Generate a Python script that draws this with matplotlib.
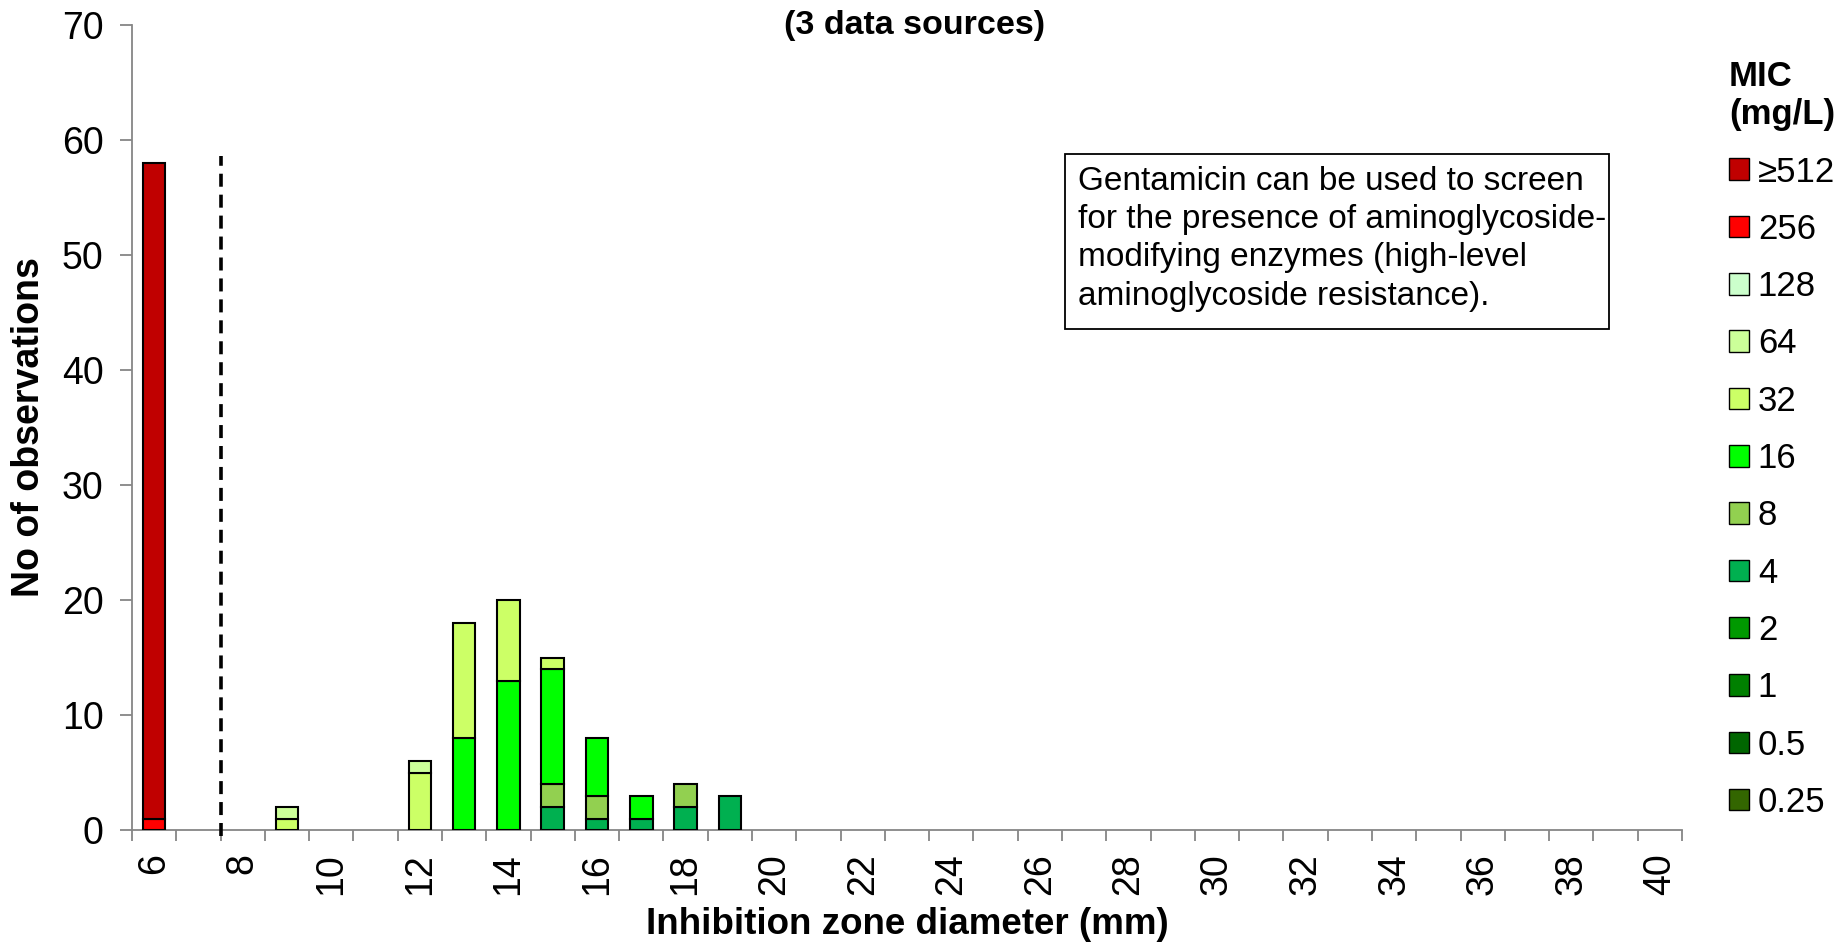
import numpy as np
import matplotlib.pyplot as plt
from matplotlib.patches import Patch, Rectangle

plt.rcParams['font.family'] = ['Liberation Sans', 'DejaVu Sans']

# zone diameters (mm), one category per mm
zone_mm = [6, 7, 8, 9, 10, 11, 12, 13, 14, 15, 16, 17, 18, 19, 20, 21, 22, 23,
           24, 25, 26, 27, 28, 29, 30, 31, 32, 33, 34, 35, 36, 37, 38, 39, 40]

# MIC classes, lowest first (stacking order)
mic_labels = ['0.25', '0.5', '1', '2', '4', '8', '16', '32', '64', '128', '256', '\u2265512']
mic_colors = ['#336600', '#006600', '#008000', '#009900', '#00B050', '#92D050',
              '#00FF00', '#CCFF66', '#CCFF99', '#CCFFCC', '#FF0000', '#C00000']

# number of observations per zone diameter for each MIC class
n_0_25 = [0, 0, 0, 0, 0, 0, 0, 0, 0, 0, 0, 0, 0, 0, 0, 0, 0, 0, 0, 0, 0, 0, 0, 0, 0, 0, 0, 0, 0, 0, 0, 0, 0, 0, 0]
n_0_5  = [0, 0, 0, 0, 0, 0, 0, 0, 0, 0, 0, 0, 0, 0, 0, 0, 0, 0, 0, 0, 0, 0, 0, 0, 0, 0, 0, 0, 0, 0, 0, 0, 0, 0, 0]
n_1    = [0, 0, 0, 0, 0, 0, 0, 0, 0, 0, 0, 0, 0, 0, 0, 0, 0, 0, 0, 0, 0, 0, 0, 0, 0, 0, 0, 0, 0, 0, 0, 0, 0, 0, 0]
n_2    = [0, 0, 0, 0, 0, 0, 0, 0, 0, 0, 0, 0, 0, 0, 0, 0, 0, 0, 0, 0, 0, 0, 0, 0, 0, 0, 0, 0, 0, 0, 0, 0, 0, 0, 0]
n_4    = [0, 0, 0, 0, 0, 0, 0, 0, 0, 2, 1, 1, 2, 3, 0, 0, 0, 0, 0, 0, 0, 0, 0, 0, 0, 0, 0, 0, 0, 0, 0, 0, 0, 0, 0]
n_8    = [0, 0, 0, 0, 0, 0, 0, 0, 0, 2, 2, 0, 2, 0, 0, 0, 0, 0, 0, 0, 0, 0, 0, 0, 0, 0, 0, 0, 0, 0, 0, 0, 0, 0, 0]
n_16   = [0, 0, 0, 0, 0, 0, 0, 8, 13, 10, 5, 2, 0, 0, 0, 0, 0, 0, 0, 0, 0, 0, 0, 0, 0, 0, 0, 0, 0, 0, 0, 0, 0, 0, 0]
n_32   = [0, 0, 0, 1, 0, 0, 5, 10, 7, 1, 0, 0, 0, 0, 0, 0, 0, 0, 0, 0, 0, 0, 0, 0, 0, 0, 0, 0, 0, 0, 0, 0, 0, 0, 0]
n_64   = [0, 0, 0, 1, 0, 0, 1, 0, 0, 0, 0, 0, 0, 0, 0, 0, 0, 0, 0, 0, 0, 0, 0, 0, 0, 0, 0, 0, 0, 0, 0, 0, 0, 0, 0]
n_128  = [0, 0, 0, 0, 0, 0, 0, 0, 0, 0, 0, 0, 0, 0, 0, 0, 0, 0, 0, 0, 0, 0, 0, 0, 0, 0, 0, 0, 0, 0, 0, 0, 0, 0, 0]
n_256  = [1, 0, 0, 0, 0, 0, 0, 0, 0, 0, 0, 0, 0, 0, 0, 0, 0, 0, 0, 0, 0, 0, 0, 0, 0, 0, 0, 0, 0, 0, 0, 0, 0, 0, 0]
n_512  = [57, 0, 0, 0, 0, 0, 0, 0, 0, 0, 0, 0, 0, 0, 0, 0, 0, 0, 0, 0, 0, 0, 0, 0, 0, 0, 0, 0, 0, 0, 0, 0, 0, 0, 0]

counts = [n_0_25, n_0_5, n_1, n_2, n_4, n_8, n_16, n_32, n_64, n_128, n_256, n_512]

breakpoint_mm = 7.5      # S >= 8 mm
breakpoint_top = 58.6

note = ("Gentamicin can be used to screen\n"
        "for the presence of aminoglycoside-\n"
        "modifying enzymes (high-level\n"
        "aminoglycoside resistance).")

W, H = 1839, 944
fig = plt.figure(figsize=(W / 100, H / 100), dpi=100)
ax = fig.add_axes([132 / W, 114 / H, 1550 / W, 805 / H])

axis_grey = '#868686'
tick_fs = 27

x = np.array(zone_mm, dtype=float)
bottom = np.zeros(len(x))
for vals, col in zip(counts, mic_colors):
    vals = np.array(vals, dtype=float)
    nz = vals > 0
    if nz.any():
        ax.bar(x[nz], vals[nz], width=0.51, bottom=bottom[nz], color=col,
               edgecolor='black', linewidth=1.5, zorder=3)
    bottom += vals

# breakpoint
ax.plot([breakpoint_mm, breakpoint_mm], [-0.5, breakpoint_top], color='black',
        linewidth=2.6, dashes=(3.6, 2.2), clip_on=False, zorder=4)

ax.set_xlim(5.5, 40.5)
ax.set_ylim(0, 70)

for s in ['top', 'right']:
    ax.spines[s].set_visible(False)
for s in ['left', 'bottom']:
    ax.spines[s].set_color(axis_grey)
    ax.spines[s].set_linewidth(1.3)

ax.set_yticks(np.arange(0, 71, 10))
ax.tick_params(axis='y', length=8.5, width=1.3, color=axis_grey, labelsize=tick_fs, pad=12)

# labels every 2 mm, tick marks between the categories
ax.set_xticks(np.arange(6, 41, 2))
ax.set_xticklabels([str(v) for v in range(6, 41, 2)], rotation=90)
ax.tick_params(axis='x', which='major', length=0, labelsize=tick_fs, pad=17)
ax.set_xticks(np.arange(5.5, 41, 1), minor=True)
ax.tick_params(axis='x', which='minor', length=8, width=1.3, color=axis_grey)

ax.set_xlabel('Inhibition zone diameter (mm)', fontsize=26.5, fontweight='bold', va='baseline')
ax.xaxis.set_label_coords(0.5, (830 - 934) / 805)
ax.set_ylabel('No of observations', fontsize=27, fontweight='bold', va='center')
ax.yaxis.set_label_coords((29 - 132) / 1550, 0.5)

fig.text(915 / W, 1 - 34 / H, '(3 data sources)', fontsize=24.5, fontweight='bold',
         ha='center', va='baseline')

# note box
fig.add_artist(Rectangle((1065 / W, 1 - 329 / H), 544 / W, 175 / H, transform=fig.transFigure,
                         facecolor='white', edgecolor='black', linewidth=1.3))
fig.text(1078 / W, 1 - 166 / H, note, fontsize=24, ha='left', va='top', linespacing=1.3)

handles = [Patch(facecolor=c, edgecolor='black', linewidth=1.0) for c in mic_colors[::-1]]
leg = fig.legend(handles, mic_labels[::-1], loc='upper left',
                 bbox_to_anchor=(1729 / W, 1 - 60 / H), frameon=False,
                 fontsize=25, borderpad=0, borderaxespad=0,
                 handlelength=0.58, handleheight=0.58, handletextpad=0.25,
                 labelspacing=0.7, title='MIC\n(mg/L)',
                 title_fontproperties={'weight': 'bold', 'size': 25})

fig.savefig('out.png', dpi=100)
